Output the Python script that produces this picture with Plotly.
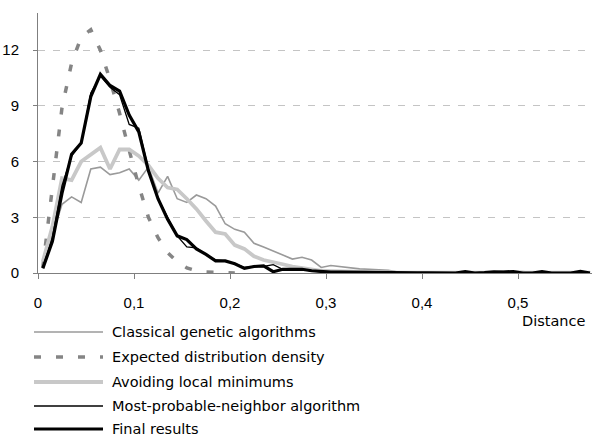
import plotly.graph_objects as go

# ---- data ----
distance = [0.005, 0.015, 0.025, 0.035, 0.045, 0.055, 0.065, 0.075, 0.085, 0.095,
            0.105, 0.115, 0.125, 0.135, 0.145, 0.155, 0.165, 0.175, 0.185, 0.195,
            0.205, 0.215, 0.225, 0.235, 0.245, 0.255, 0.265, 0.275, 0.285, 0.295,
            0.305, 0.315, 0.325, 0.335, 0.345, 0.355, 0.365, 0.375, 0.385, 0.395,
            0.405, 0.415, 0.425, 0.435, 0.445, 0.455, 0.465, 0.475, 0.485, 0.495,
            0.505, 0.515, 0.525, 0.535, 0.545, 0.555, 0.565, 0.575]

classical = [0.4, 2.0, 3.7, 4.1, 3.8, 5.6, 5.7, 5.3, 5.4, 5.6,
             5.0, 5.7, 4.3, 5.2, 4.0, 3.8, 4.2, 4.0, 3.6, 2.65,
             2.35, 2.2, 1.6, 1.4, 1.2, 0.97, 0.75, 0.85, 0.7, 0.3,
             0.4, 0.33, 0.3, 0.22, 0.2, 0.17, 0.15, 0.05, 0.04, 0.03,
             0.03, 0.02, 0.02, 0.02, 0.02, 0.02, 0.03, 0.05, 0.1, 0.1,
             0.08, 0.02, 0.02, 0.02, 0.01, 0.01, 0.01, 0.01]

expected_x = distance[:21]
expected = [0.3, 4.8, 8.9, 11.3, 12.7, 13.1, 12.0, 10.4, 8.6, 6.6,
            4.7, 3.0, 1.9, 1.1, 0.6, 0.28, 0.12, 0.05, 0.02, 0.0, 0.0]

avoiding = [0.6, 2.5, 5.1, 5.0, 6.0, 6.4, 6.75, 5.6, 6.65, 6.65,
            6.3, 5.8, 5.1, 4.6, 4.5, 4.0, 3.45, 2.8, 2.2, 2.1,
            1.5, 1.3, 0.9, 0.7, 0.6, 0.47, 0.34, 0.25, 0.16, 0.12,
            0.1, 0.08, 0.07, 0.06, 0.05, 0.04, 0.03, 0.02, 0.02, 0.02,
            0.02, 0.02, 0.02, 0.02, 0.02, 0.02, 0.02, 0.02, 0.02, 0.02,
            0.02, 0.02, 0.02, 0.02, 0.02, 0.02, 0.02, 0.02]

most_probable = [0.3, 1.9, 4.7, 6.3, 7.0, 9.7, 10.6, 10.0, 9.6, 8.0,
                 7.8, 5.6, 4.0, 3.0, 2.0, 1.4, 1.35, 1.0, 0.7, 0.65,
                 0.5, 0.3, 0.35, 0.35, 0.45, 0.2, 0.15, 0.2, 0.1, 0.08,
                 0.06, 0.05, 0.04, 0.04, 0.03, 0.02, 0.02, 0.02, 0.01, 0.01,
                 0.01, 0.0, 0.0, 0.0, 0.07, 0.0, 0.01, 0.05, 0.06, 0.07,
                 0.0, 0.0, 0.07, 0.0, 0.0, 0.0, 0.08, 0.0]

final_results = [0.25, 1.7, 4.3, 6.4, 7.0, 9.5, 10.7, 10.1, 9.8, 8.5,
                 7.6, 5.5, 4.0, 2.9, 2.0, 1.8, 1.3, 1.0, 0.65, 0.65,
                 0.5, 0.25, 0.35, 0.38, 0.07, 0.2, 0.2, 0.2, 0.12, 0.08,
                 0.05, 0.05, 0.04, 0.03, 0.03, 0.02, 0.02, 0.02, 0.01, 0.01,
                 0.01, 0.0, 0.0, 0.0, 0.08, 0.0, 0.02, 0.06, 0.05, 0.08,
                 0.0, 0.0, 0.08, 0.0, 0.0, 0.0, 0.09, 0.0]

x_tickvals = [0, 0.1, 0.2, 0.3, 0.4, 0.5]
x_ticktext = ["0", "0,1", "0,2", "0,3", "0,4", "0,5"]
y_tickvals = [0, 3, 6, 9, 12]

series_names = ["Classical genetic algorithms", "Expected distribution density",
                "Avoiding local minimums", "Most-probable-neighbor algorithm",
                "Final results"]

# ---- styles ----
W, H = 592, 437
L, R, T, B = 38, 0, 13, 164
styles = [
    dict(color="#9a9a9a", width=1.6, dash="solid"),
    dict(color="#858585", width=3.5, dash="7px,15px"),
    dict(color="#c8c8c8", width=3.8, dash="solid"),
    dict(color="#000000", width=1.3, dash="solid"),
    dict(color="#000000", width=3.2, dash="solid"),
]
series = [(distance, classical), (expected_x, expected), (distance, avoiding),
          (distance, most_probable), (distance, final_results)]

fig = go.Figure()
for (xs, ys), name, st in zip(series, series_names, styles):
    fig.add_trace(go.Scatter(x=xs, y=ys, mode="lines", name=name,
                             line=dict(color=st["color"], width=st["width"], dash=st["dash"]),
                             showlegend=False, hoverinfo="skip"))

pw, ph = W - L - R, H - T - B


def px_x(p):
    return (p - L) / pw


def px_y(p):
    return (H - B - p) / ph


LEG_FONT = dict(family="DejaVu Sans", size=14.5, color="#000000")
shapes = []
annotations = []
rows = [332, 357, 382, 406, 429]
for name, st, ry in zip(series_names, styles, rows):
    shapes.append(dict(type="line", xref="paper", yref="paper",
                       x0=px_x(34), x1=px_x(103), y0=px_y(ry), y1=px_y(ry),
                       line=dict(color=st["color"], width=st["width"], dash=st["dash"])))
    annotations.append(dict(text=name, xref="paper", yref="paper",
                            x=px_x(110), y=px_y(ry), xanchor="left", yanchor="middle",
                            showarrow=False, font=LEG_FONT))

annotations.append(dict(text="Distance", xref="paper", yref="paper",
                        x=px_x(587), y=px_y(321), xanchor="right", yanchor="middle",
                        showarrow=False, font=LEG_FONT))

fig.update_layout(
    width=W, height=H,
    margin=dict(l=L, r=R, t=T, b=B, pad=0),
    paper_bgcolor="white", plot_bgcolor="white",
    shapes=shapes, annotations=annotations,
    font=dict(family="Liberation Sans, Arial, sans-serif", size=15, color="#000000"),
    xaxis=dict(range=[0, (W - L - R) / 960.0], tickvals=x_tickvals, ticktext=x_ticktext,
               showgrid=False, zeroline=False, showline=True, linecolor="#7f7f7f",
               linewidth=1, ticks="outside", ticklen=5, tickcolor="#7f7f7f",
               ticklabelstandoff=11),
    yaxis=dict(range=[0, 14], tickvals=y_tickvals, showgrid=True,
               gridcolor="#c4c4c4", griddash="7px,8px", gridwidth=1,
               zeroline=False, showline=True, linecolor="#7f7f7f", linewidth=1,
               ticks="outside", ticklen=4, tickcolor="#7f7f7f",
               ticklabelstandoff=11),
)

fig.write_html("out.html", config={"displayModeBar": False},
               post_script="document.body.style.margin='0';document.body.style.overflow='hidden';")
